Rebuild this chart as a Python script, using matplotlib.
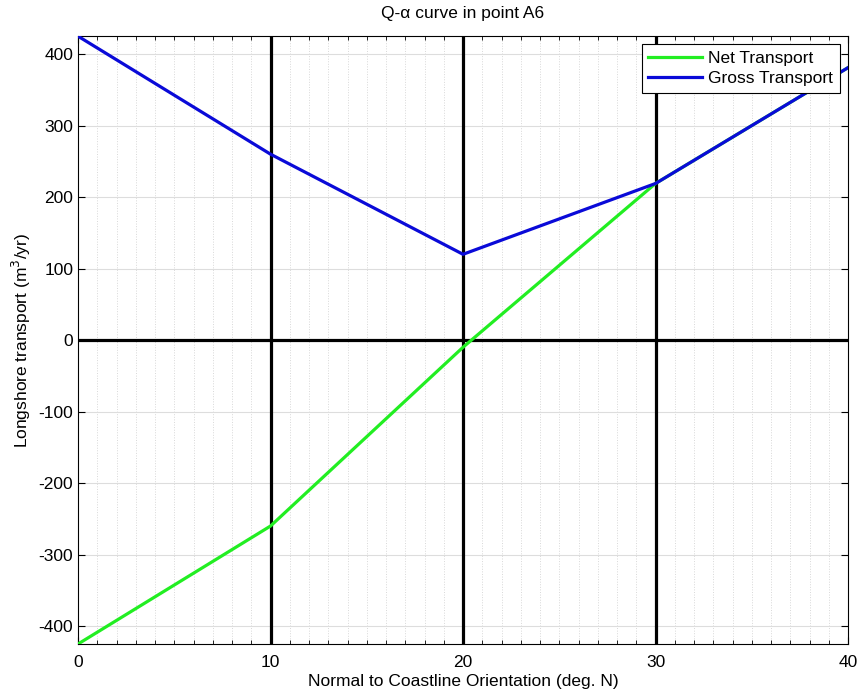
import numpy as np
import matplotlib.pyplot as plt
from matplotlib.ticker import MultipleLocator

plt.rcParams['font.family'] = ['Liberation Sans', 'DejaVu Sans']
plt.rcParams['axes.unicode_minus'] = False

# values (deg. N vs m3/yr)
angle = [0, 10, 20, 30, 40]
net_transport = [-425, -260, -10, 219, 381]
gross_transport = [425, 260, 120, 219, 381]

fig = plt.figure(figsize=(8.64, 6.96), dpi=100)
ax = fig.add_axes([0.0903, 0.0747, 0.8912, 0.8733])

# grid: light major y, dotted minor x
ax.xaxis.set_major_locator(MultipleLocator(10))
ax.xaxis.set_minor_locator(MultipleLocator(1))
ax.yaxis.set_major_locator(MultipleLocator(100))
ax.grid(which='major', axis='y', color='#dddddd', lw=0.8, ls='-')
ax.grid(which='minor', axis='x', color='#d8d8d8', lw=0.7, ls=':')

# thick black reference lines
for xv in [10, 20, 30]:
    ax.axvline(xv, color='black', lw=2.3, zorder=2)
ax.axhline(0, color='black', lw=2.3, zorder=2)

ax.plot(angle, net_transport, color='#22ee22', lw=2.3, label='Net Transport', zorder=3)
ax.plot(angle, gross_transport, color='#0a0ad8', lw=2.3, label='Gross Transport', zorder=4)

ax.set_xlim(0, 40)
ax.set_ylim(-425, 425)

ax.tick_params(which='both', direction='in', top=True, right=True, labelsize=12.5)
ax.tick_params(which='major', length=5)
ax.tick_params(which='minor', length=3)
ax.tick_params(axis='x', which='major', pad=8)
for s in ax.spines.values():
    s.set_linewidth(0.8)

ax.set_title('Q-α curve in point A6', fontsize=12.5, pad=13)
ax.set_xlabel('Normal to Coastline Orientation (deg. N)', fontsize=12.5, labelpad=3)
ax.set_ylabel(r'Longshore transport (m$^3$/yr)', fontsize=12.5, labelpad=4)

leg = ax.legend(loc='upper right', fontsize=12.5, fancybox=False, edgecolor='black',
                framealpha=1, borderaxespad=0.45, handlelength=3.1, borderpad=0.4,
                labelspacing=0.25, handletextpad=0.35)
leg.get_frame().set_linewidth(0.8)

fig.savefig('out.png', dpi=100)
